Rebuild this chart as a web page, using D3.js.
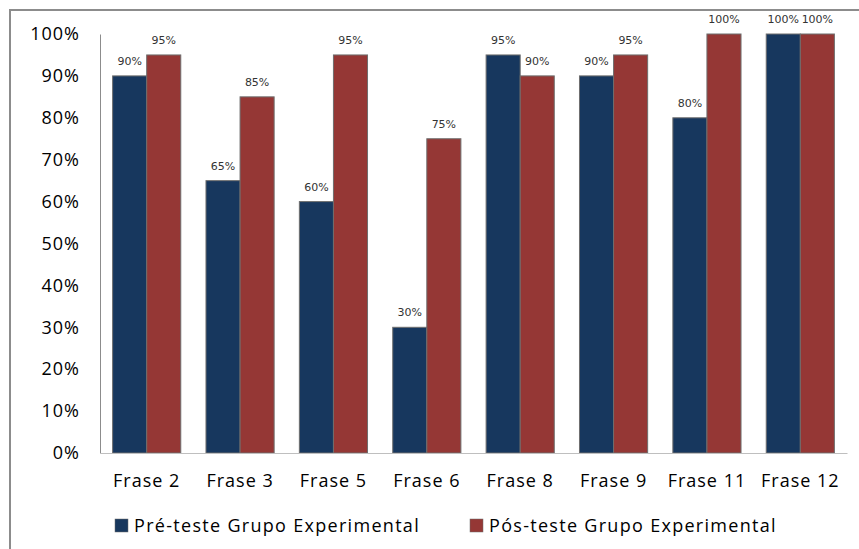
<!DOCTYPE html>
<html>
<head>
<meta charset="utf-8">
<script src="https://cdn.jsdelivr.net/npm/d3@7"></script>
<style>
    body { margin: 0; background: #fff; }
    svg { display: block; }
</style>
</head>
<body>
<script>

// categories and series values (percent)
const categories = ["Frase 2", "Frase 3", "Frase 5", "Frase 6", "Frase 8", "Frase 9", "Frase 11", "Frase 12"];
const preTeste = [90, 65, 60, 30, 95, 90, 80, 100];
const posTeste = [95, 85, 95, 75, 90, 95, 100, 100];
const seriesNames = ["Pré-teste Grupo Experimental", "Pós-teste Grupo Experimental"];
const yTicks = [0, 10, 20, 30, 40, 50, 60, 70, 80, 90, 100];

window.onload = function() {
    makeChart();
};


/** Draws the grouped bar chart. */
function makeChart() {

    const width = 859;
    const height = 549;
    const colors = ["#17375E", "#953735"];

    // plot area
    const left = 100, right = 847, top = 34, bottom = 453;

    let svg = d3.select("body")
                .append("svg")
                .attr("width", width)
                .attr("height", height);

    // chart border (cut off at right and bottom)
    svg.append("rect")
       .attr("x", 10)
       .attr("y", 10)
       .attr("width", 870)
       .attr("height", 570)
       .attr("fill", "none")
       .attr("stroke", "#8c8c8c")
       .attr("stroke-width", 2);

    let xScale = d3.scaleBand()
                   .domain(categories)
                   .range([left, right])
                   .paddingInner(0.27)
                   .paddingOuter(0.135);

    let xInner = d3.scaleBand()
                   .domain([0, 1])
                   .range([0, xScale.bandwidth()]);

    let yScale = d3.scaleLinear()
                   .domain([0, 100])
                   .range([bottom, top]);

    // y axis labels
    let yAxis = svg.append("g")
                   .attr("transform", "translate(" + left + ",0)")
                   .call(d3.axisLeft(yScale)
                           .tickValues(yTicks)
                           .tickSize(0)
                           .tickPadding(20)
                           .tickFormat(function(d) { return d + "%"; }));
    yAxis.select(".domain").attr("stroke", "#8c8c8c");
    yAxis.selectAll("text")
         .style("font-family", "'Open Sans', sans-serif")
         .style("font-size", "18px")
         .style("letter-spacing", "1px")
         .attr("fill", "#000");

    // bars
    const data = [];
    categories.forEach(function(c, i) {
        data.push({cat: c, s: 0, v: preTeste[i]});
        data.push({cat: c, s: 1, v: posTeste[i]});
    });

    svg.selectAll(".bar")
       .data(data)
       .enter()
       .append("rect")
       .attr("class", "bar")
       .attr("x", function(d) { return xScale(d.cat) + xInner(d.s); })
       .attr("y", function(d) { return yScale(d.v); })
       .attr("width", xInner.bandwidth())
       .attr("height", function(d) { return yScale(0) - yScale(d.v); })
       .attr("fill", function(d) { return colors[d.s]; })
       .attr("stroke", "#6e6e6e")
       .attr("stroke-width", 1);

    // data labels
    svg.selectAll(".lbl")
       .data(data)
       .enter()
       .append("text")
       .attr("class", "lbl")
       .attr("x", function(d) { return xScale(d.cat) + xInner(d.s) + xInner.bandwidth() / 2; })
       .attr("y", function(d) { return yScale(d.v) - 11; })
       .attr("text-anchor", "middle")
       .style("font-family", "'DejaVu Sans', Verdana, sans-serif")
       .style("font-size", "11px")
       .attr("fill", "#333")
       .text(function(d) { return d.v + "%"; });

    // x axis
    let xAxis = svg.append("g")
                   .attr("transform", "translate(0," + bottom + ")")
                   .call(d3.axisBottom(xScale).tickSize(0).tickPadding(21));
    xAxis.select(".domain").attr("stroke", "#bfbfbf");
    xAxis.selectAll("text")
         .style("font-family", "'Open Sans', sans-serif")
         .style("font-size", "18px")
         .style("letter-spacing", "1px")
         .attr("fill", "#000");

    // legend
    const legendX = [115, 470];
    let legend = svg.selectAll(".legend")
                    .data(seriesNames)
                    .enter()
                    .append("g")
                    .attr("class", "legend")
                    .attr("transform", function(d, i) {
                        return "translate(" + legendX[i] + ",519)"; });

    legend.append("rect")
          .attr("width", 13)
          .attr("height", 13)
          .attr("fill", function(d, i) { return colors[i]; })
          .attr("stroke", "#6e6e6e")
          .attr("stroke-width", 0.5);

    legend.append("text")
          .attr("x", 19)
          .attr("y", 13)
          .style("font-family", "'Open Sans', sans-serif")
          .style("font-size", "18px")
          .style("letter-spacing", "1.3px")
          .attr("fill", "#000")
          .text(function(d) { return d; });
}
</script>
</body>
</html>
